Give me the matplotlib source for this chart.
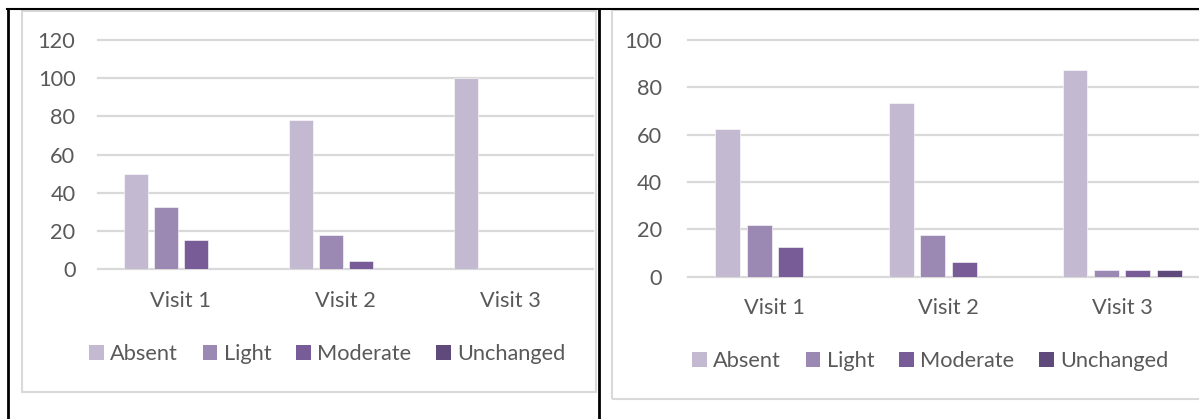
import matplotlib
matplotlib.use("Agg")
import matplotlib.pyplot as plt
from matplotlib.lines import Line2D
from matplotlib.patches import Rectangle, Patch
import numpy as np

plt.rcParams['font.family'] = ['Lato', 'DejaVu Sans']

categories = ["Visit 1", "Visit 2", "Visit 3"]
series_names = ["Absent", "Light", "Moderate", "Unchanged"]

left_absent = [50, 78, 100]
left_light = [32.5, 18, 0]
left_moderate = [15, 4, 0]
left_unchanged = [0, 0, 0]

right_absent = [62.5, 73.5, 87.5]
right_light = [22, 17.5, 3]
right_moderate = [12.5, 6, 3]
right_unchanged = [0, 0, 3]

left_yticks = [0, 20, 40, 60, 80, 100, 120]
right_yticks = [0, 20, 40, 60, 80, 100]

colors = ["#C3B9D0", "#9C89B3", "#775C98", "#604A7B"]
TEXT = "#595959"
GRID = "#D9D9D9"
FS = 15.7

W, H = 1199, 419
fig = plt.figure(figsize=(W / 100, H / 100), dpi=100)


def fx(x):
    return x / W


def fy(y):
    return 1 - y / H


def draw_panel(rect, series, yticks, ypad, legend_y, legend_x):
    ax = fig.add_axes(rect)
    x = np.arange(len(categories))
    width = 0.143
    pitch = 0.181
    for i, (vals, c) in enumerate(zip(series, colors)):
        ax.bar(x + (i - 1.5) * pitch, vals, width=width, color=c,
               edgecolor="white", linewidth=0.4, zorder=3, label=series_names[i])
    ax.set_xlim(-0.5, len(categories) - 0.5)
    ax.set_ylim(yticks[0], yticks[-1])
    for t in yticks:
        ax.axhline(t, color=GRID, linewidth=1.6, zorder=1, clip_on=False)
    for s in ax.spines.values():
        s.set_visible(False)
    ax.set_yticks(yticks)
    ax.set_yticklabels([str(t) for t in yticks], fontsize=FS, color=TEXT)
    ax.set_xticks(x)
    ax.set_xticklabels(categories, fontsize=FS, color=TEXT)
    ax.tick_params(axis='y', length=0, pad=ypad)
    ax.tick_params(axis='x', length=0, pad=15.5)
    handles = [Patch(facecolor=c, edgecolor='none') for c in colors]
    fig.legend(handles, series_names, loc='center left',
               bbox_to_anchor=(fx(legend_x), fy(legend_y)),
               ncol=4, frameon=False, fontsize=FS, labelcolor=TEXT,
               handlelength=0.68, handleheight=0.68, handletextpad=0.3,
               columnspacing=1.12, borderaxespad=0, borderpad=0)
    return ax


draw_panel([fx(98.3), fy(269), fx(495), 229 / H],
           [left_absent, left_light, left_moderate, left_unchanged],
           left_yticks, 16.5, 354, 89)
draw_panel([fx(688), fy(276.7), fx(521), 236.7 / H],
           [right_absent, right_light, right_moderate, right_unchanged],
           right_yticks, 18.5, 361, 692)

# light gray chart-area frames
fig.add_artist(Rectangle((fx(22), fy(392)), fx(574), (392 - 11) / H,
                         fill=False, edgecolor=GRID, linewidth=1.5))
fig.add_artist(Rectangle((fx(612), fy(399)), fx(620), (399 - 10) / H,
                         fill=False, edgecolor=GRID, linewidth=1.5))

# black table borders
fig.add_artist(Line2D([fx(7.5), fx(7.5)], [fy(9), 0], color='black', linewidth=2))
fig.add_artist(Line2D([fx(599), fx(599)], [fy(9), 0], color='black', linewidth=2))
fig.add_artist(Line2D([fx(6.5), 1], [fy(9.5), fy(9.5)], color='black', linewidth=1.5))

fig.savefig("out.png", dpi=100)
